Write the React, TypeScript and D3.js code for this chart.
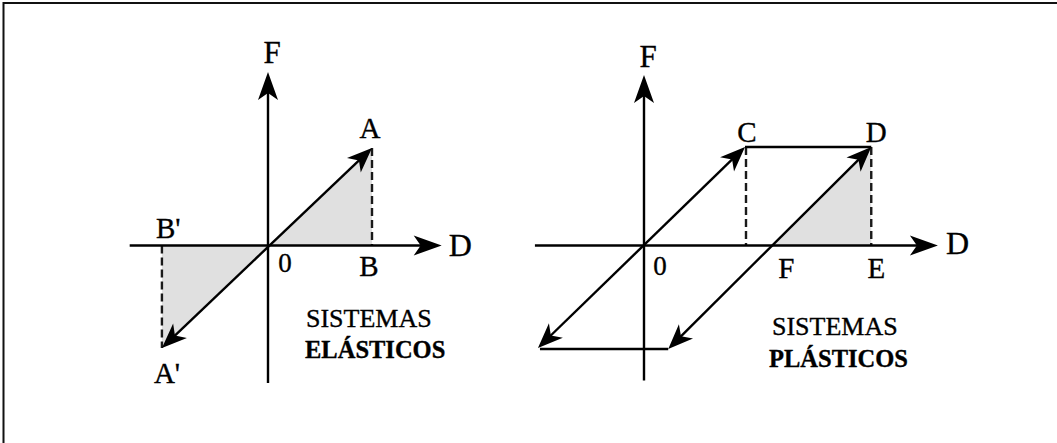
import React from 'react';
import * as d3 from 'd3';

// Diagram values in (D, F) units; one unit = displacement / force at yield
const elasticAxisD = [-1.33, 1.67];
const elasticAxisF = [-1.41, 1.78];
const elasticPeak = { d: 1, f: 1 };          // A
const elasticValley = { d: -1.02, f: -1.05 }; // A'

const plasticAxisD = [-1.08, 2.91];
const plasticAxisF = [-1.37, 1.73];
const plasticYield = { d: 1, f: 1 };        // C
const plasticPeak = { d: 2.25, f: 1 };      // D
const plasticResidual = { d: 1.27, f: 0 };  // F
const plasticLowLeft = { d: -1.05, f: -1.04 };
const plasticLowRight = { d: 0.24, f: -1.05 };

const elasticTitle = ['SISTEMAS', 'ELÁSTICOS'];
const plasticTitle = ['SISTEMAS', 'PLÁSTICOS'];

const W = 1057;
const H = 443;
const FONT = '"Liberation Serif", "Times New Roman", serif';

// left panel scales
const xL = d3.scaleLinear().domain([0, 1]).range([268, 372]);
const yL = d3.scaleLinear().domain([0, 1]).range([245.5, 148]);
// right panel scales
const xR = d3.scaleLinear().domain([0, 1]).range([644, 745]);
const yR = d3.scaleLinear().domain([0, 1]).range([245.5, 147]);

type P = [number, number];

function Head({ tip, from, big }: { tip: P; from: P; big?: boolean }) {
    const ang = (Math.atan2(tip[1] - from[1], tip[0] - from[0]) * 180) / Math.PI;
    const d = big ? 'M0,0 L-28,-10 L-21,0 L-28,10 Z' : 'M0,0 L-25,-10 L-18,0 L-25,10 Z';
    return <path d={d} fill="#000" transform={`translate(${tip[0]},${tip[1]}) rotate(${ang})`} />;
}

// line with optional arrowheads at either end
function Arrow({ a, b, headA, headB, big, width = 2.4 }: { a: P; b: P; headA?: boolean; headB?: boolean; big?: boolean; width?: number }) {
    const pull = big ? 19 : 15;
    const len = Math.hypot(b[0] - a[0], b[1] - a[1]);
    const ux = (b[0] - a[0]) / len;
    const uy = (b[1] - a[1]) / len;
    const s: P = headA ? [a[0] + ux * pull, a[1] + uy * pull] : a;
    const e: P = headB ? [b[0] - ux * pull, b[1] - uy * pull] : b;
    return (
        <g>
            <line x1={s[0]} y1={s[1]} x2={e[0]} y2={e[1]} stroke="#000" strokeWidth={width} />
            {headA && <Head tip={a} from={b} big={big} />}
            {headB && <Head tip={b} from={a} big={big} />}
        </g>
    );
}

const area = (x: d3.ScaleLinear<number, number>, y: d3.ScaleLinear<number, number>, pts: { d: number; f: number }[]) =>
    d3.line<{ d: number; f: number }>().x(p => x(p.d)).y(p => y(p.f))(pts) + 'Z';

function Dashed({ x1, y1, x2, y2 }: { x1: number; y1: number; x2: number; y2: number }) {
    return <line x1={x1} y1={y1} x2={x2} y2={y2} stroke="#1a1a1a" strokeWidth={2.4} strokeDasharray="8,4" />;
}

function Label({ x, y, text, size = 29, anchor = 'middle', bold = false }: { x: number; y: number; text: string; size?: number; anchor?: string; bold?: boolean }) {
    return (
        <text x={x} y={y} fontFamily={FONT} fontSize={size} textAnchor={anchor as any} fontWeight={bold ? 'bold' : 'normal'} fill="#000" stroke="#000" strokeWidth={0.35}>
            {text}
        </text>
    );
}

function ElasticPanel() {
    const o: P = [xL(0), yL(0)];
    const A: P = [xL(elasticPeak.d), yL(elasticPeak.f)];
    const A2: P = [xL(elasticValley.d), yL(elasticValley.f)];
    return (
        <g>
            <path d={area(xL, yL, [{ d: 0, f: 0 }, elasticPeak, { d: elasticPeak.d, f: 0 }])} fill="#e0e0e0" />
            <path d={area(xL, yL, [{ d: 0, f: 0 }, { d: elasticValley.d, f: 0 }, elasticValley])} fill="#e0e0e0" />
            <Dashed x1={A[0]} y1={A[1]} x2={A[0]} y2={o[1]} />
            <Dashed x1={A2[0]} y1={o[1]} x2={A2[0]} y2={A2[1]} />
            <Arrow a={[xL(elasticAxisD[0]), o[1]]} b={[xL(elasticAxisD[1]), o[1]]} headB big />
            <Arrow a={[o[0], yL(elasticAxisF[0])]} b={[o[0], yL(elasticAxisF[1])]} headB big />
            <Arrow a={A2} b={A} headA headB />
            <Label x={o[0] + 4} y={yL(elasticAxisF[1]) - 9} text="F" size={31} />
            <Label x={xL(elasticAxisD[1]) + 7} y={o[1] + 10} text="D" size={32} anchor="start" />
            <Label x={o[0] + 17} y={o[1] + 26} text="0" size={27} />
            <Label x={A[0] - 3} y={o[1] + 30} text="B" />
            <Label x={A[0] - 2} y={A[1] - 10} text="A" />
            <Label x={A2[0] - 6} y={o[1] - 8} text="B'" anchor="start" />
            <Label x={A2[0] - 8} y={A2[1] + 35} text="A'" anchor="start" />
            <Label x={306} y={327} text={elasticTitle[0]} size={26} anchor="start" />
            <Label x={305} y={358} text={elasticTitle[1]} size={24.5} anchor="start" bold />
        </g>
    );
}

function PlasticPanel() {
    const o: P = [xR(0), yR(0)];
    const C: P = [xR(plasticYield.d), yR(plasticYield.f)];
    const D: P = [xR(plasticPeak.d), yR(plasticPeak.f)];
    const G: P = [xR(plasticLowLeft.d), yR(plasticLowLeft.f)];
    const Hh: P = [xR(plasticLowRight.d), yR(plasticLowRight.f)];
    return (
        <g>
            <path d={area(xR, yR, [plasticResidual, plasticPeak, { d: plasticPeak.d, f: 0 }])} fill="#e0e0e0" />
            <Dashed x1={C[0] + 1} y1={C[1]} x2={C[0] + 1} y2={o[1]} />
            <Dashed x1={D[0]} y1={D[1]} x2={D[0]} y2={o[1]} />
            <Arrow a={[xR(plasticAxisD[0]), o[1]]} b={[xR(plasticAxisD[1]), o[1]]} headB big />
            <Arrow a={[o[0], yR(plasticAxisF[0])]} b={[o[0], yR(plasticAxisF[1])]} headB big />
            <line x1={C[0]} y1={C[1]} x2={D[0]} y2={D[1]} stroke="#000" strokeWidth={2.4} />
            <line x1={G[0] + 2} y1={Hh[1]} x2={Hh[0]} y2={Hh[1]} stroke="#000" strokeWidth={2.4} />
            <Arrow a={G} b={C} headA headB />
            <Arrow a={Hh} b={D} headA headB />
            <Label x={o[0] + 4} y={yR(plasticAxisF[1]) - 8} text="F" size={31} />
            <Label x={xR(plasticAxisD[1]) + 8} y={o[1] + 8} text="D" size={32} anchor="start" />
            <Label x={o[0] + 16} y={o[1] + 29} text="0" size={27} />
            <Label x={xR(plasticResidual.d) + 14} y={o[1] + 32} text="F" />
            <Label x={D[0] + 5} y={o[1] + 32} text="E" />
            <Label x={C[0] + 2} y={C[1] - 5} text="C" />
            <Label x={D[0] + 5} y={D[1] - 5} text="D" />
            <Label x={772} y={335} text={plasticTitle[0]} size={26} anchor="start" />
            <Label x={769} y={367} text={plasticTitle[1]} size={24.5} anchor="start" bold />
        </g>
    );
}

export default function App() {
    return (
        <svg width={W} height={H} style={{ position: 'absolute', left: 0, top: 0, background: '#fff' }}>
            <rect x={0} y={0} width={W} height={H} fill="#fff" />
            <line x1={3.5} y1={2} x2={3.5} y2={H} stroke="#111" strokeWidth={2} />
            <line x1={3} y1={3} x2={W} y2={3} stroke="#111" strokeWidth={2} />
            <ElasticPanel />
            <PlasticPanel />
        </svg>
    );
}
